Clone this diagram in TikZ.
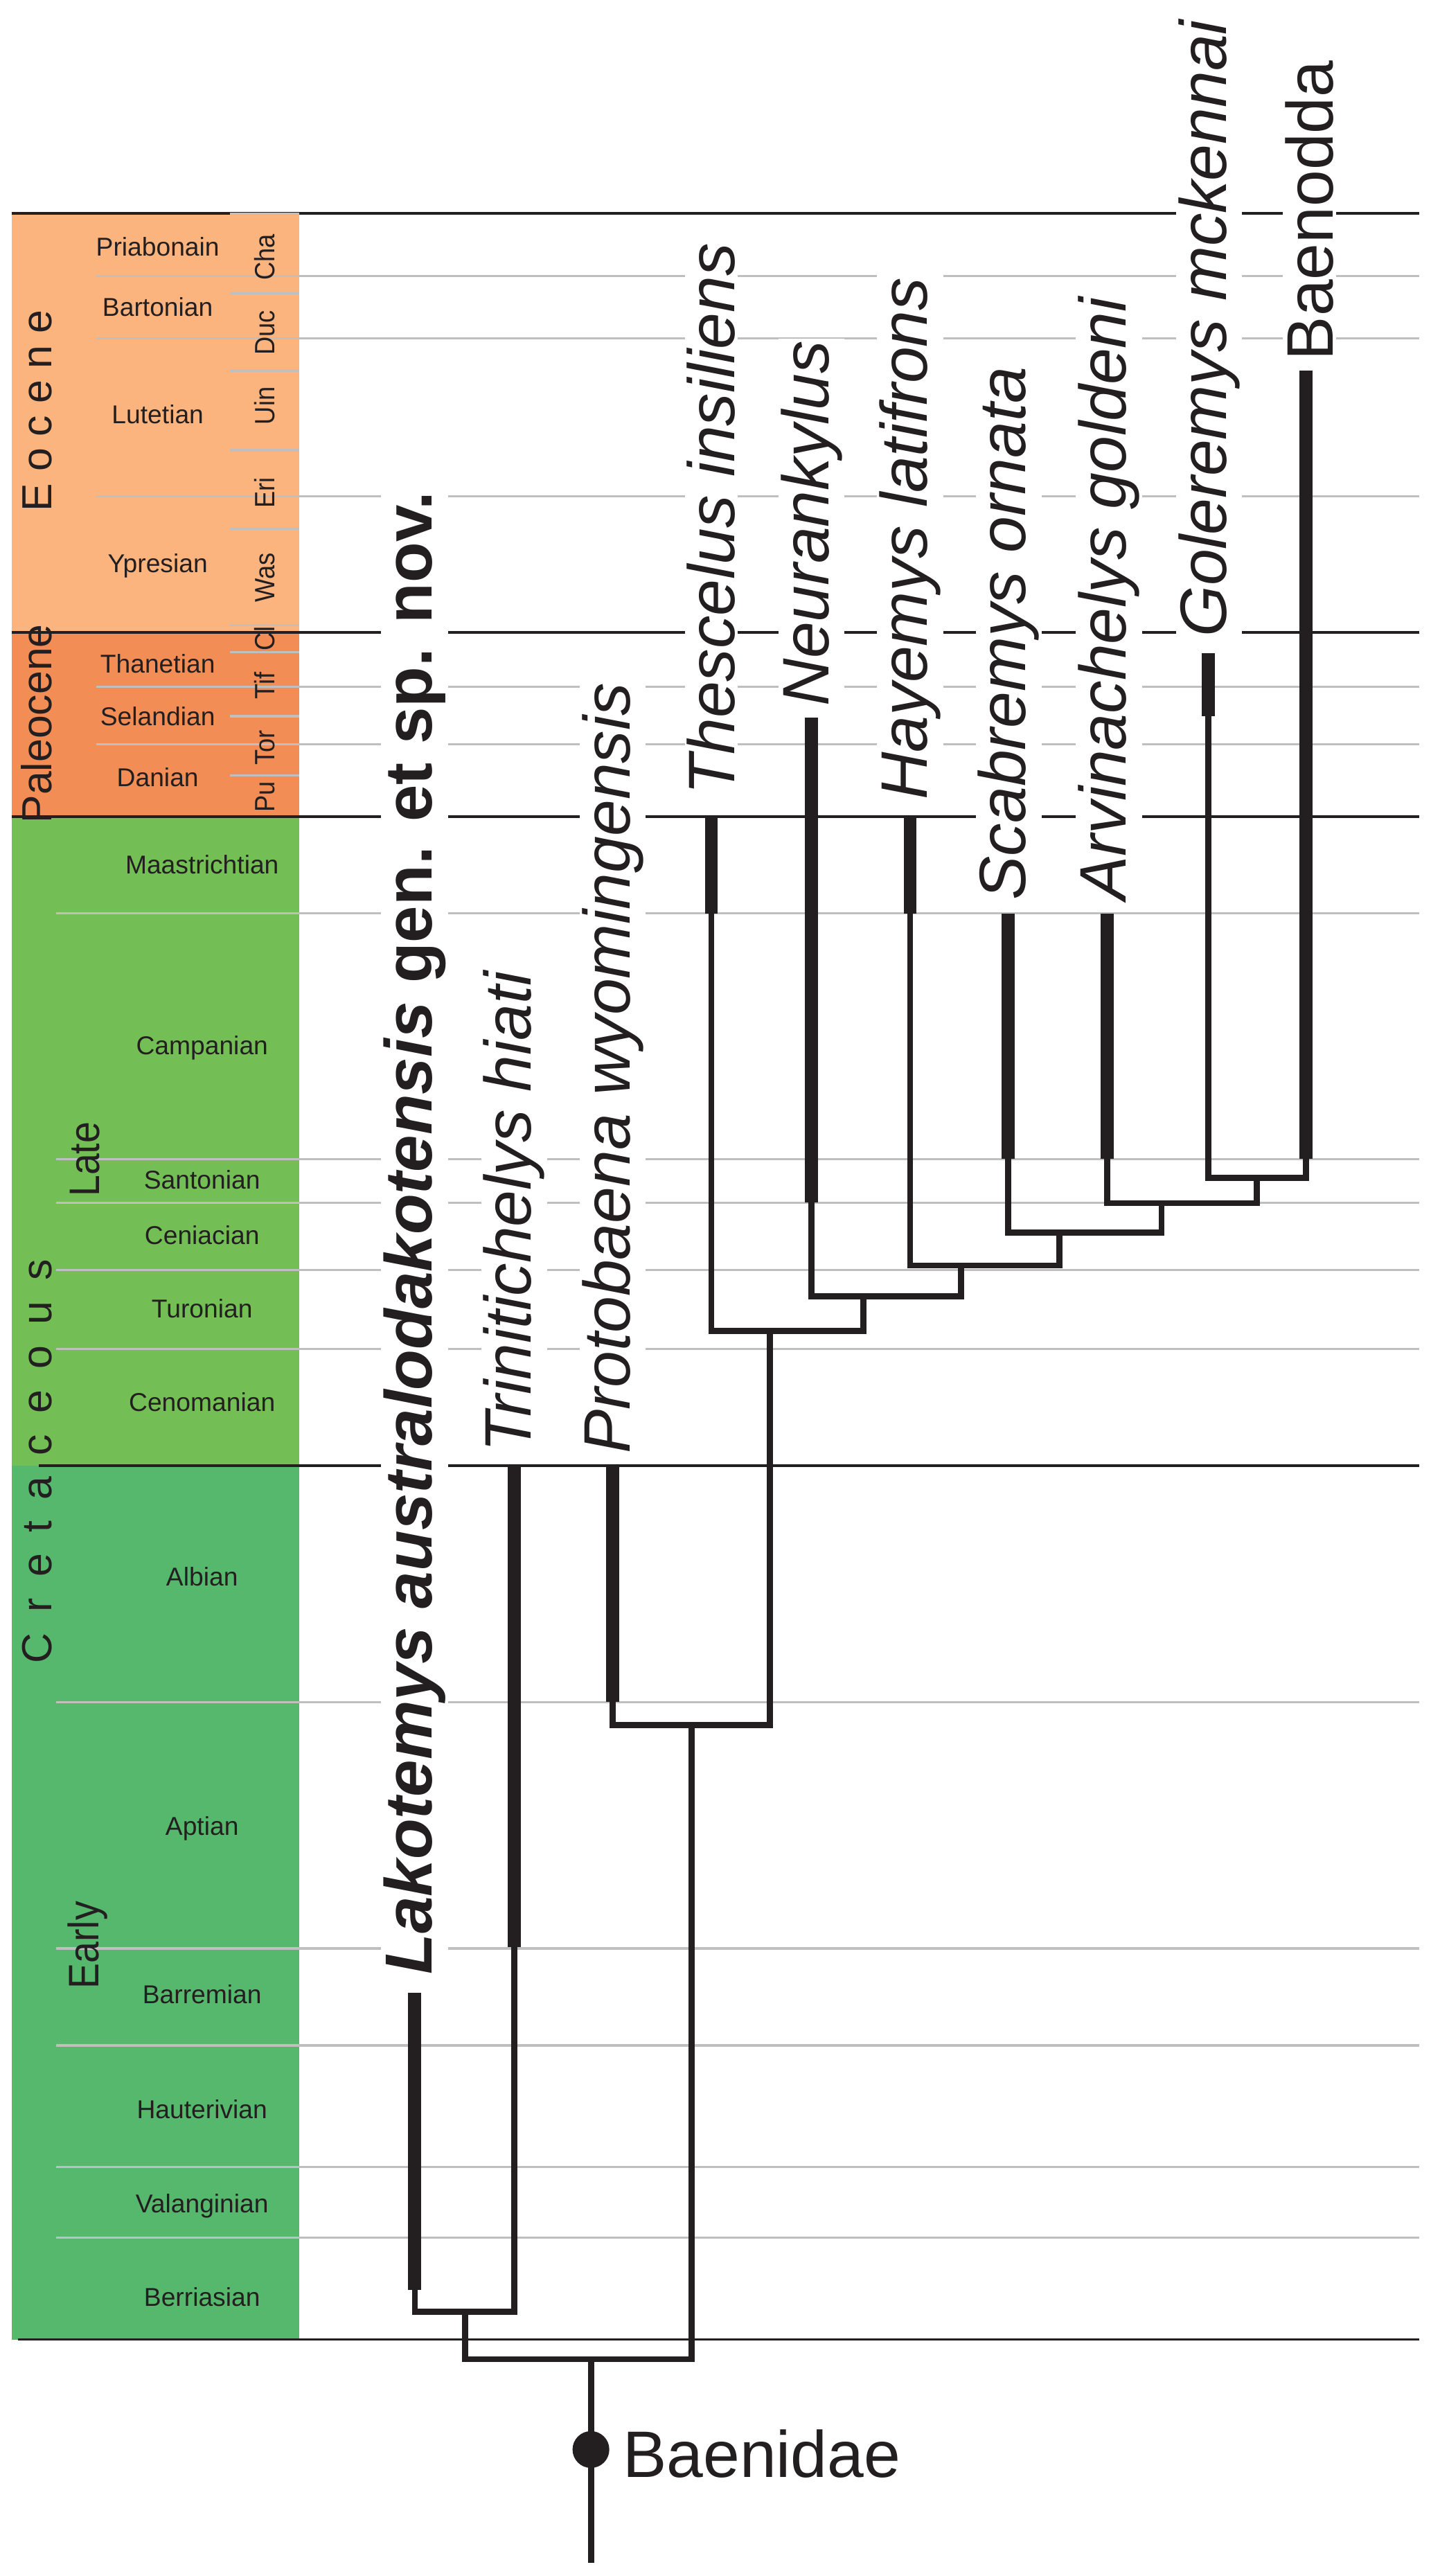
\documentclass[tikz,border=0pt]{standalone}
\usepackage{fontspec}
\setmainfont{Liberation Sans}
\newfontfamily\narrowfont[FakeStretch=0.9]{Liberation Sans}
\definecolor{eoc}{HTML}{FCB47E}
\definecolor{pal}{HTML}{F18D55}
\definecolor{lcr}{HTML}{73BF55}
\definecolor{ecr}{HTML}{56B86C}
\definecolor{grayline}{HTML}{BFBFBF}
\definecolor{ink}{HTML}{231F20}
\tikzset{
  blackline/.style={ink, line width=1.6pt},
  grayln/.style={grayline, line width=1.4pt},
  thickbar/.style={ink, line width=8pt},
  thinbr/.style={ink, line width=3.7pt, line join=miter},
  taxon/.style={rotate=90, anchor=west, fill=white, inner sep=1.5pt, text=ink,
    font=\fontsize{40}{48}\selectfont\itshape},
  stage/.style={anchor=base, inner sep=0pt, text=ink, font=\fontsize{15.7}{18}\selectfont},
  nalma/.style={rotate=90, anchor=base, inner sep=0pt, text=ink, font=\narrowfont\fontsize{17}{20}\selectfont},
  epoch/.style={rotate=90, anchor=base, inner sep=0pt, text=ink, font=\fontsize{25.6}{30}\selectfont},
  sub/.style={rotate=90, anchor=base, inner sep=0pt, text=ink, font=\narrowfont\fontsize{26}{30}\selectfont}
}
\begin{document}
\begin{tikzpicture}[x=1pt,y=-1pt]
\useasboundingbox (0,0) rectangle (871,1568);
\fill[white] (0,0) rectangle (871,1568);
% colour bands
\fill[eoc] (7.3,130) rectangle (182,385);
\fill[pal] (7.3,385) rectangle (182,497);
\fill[lcr] (7.3,497) rectangle (182,892);
\fill[ecr] (7.3,892) rectangle (182,1424);
% stage boundaries (grey)
\foreach \yy in {168,206,302,418,453}
  \draw[grayln] (58.7,\yy) -- (864,\yy);
\foreach \yy in {556,705.5,732,773,821,1036,1186,1245,1319,1362}
  \draw[grayln] (34.3,\yy) -- (864,\yy);
% epoch boundaries (black)
\draw[blackline] (7,130) -- (864,130);
\draw[blackline] (7,385) -- (864,385);
\draw[blackline] (7,497) -- (864,497);
\draw[blackline] (23.4,892) -- (864,892);
\draw[blackline] (11,1424) -- (864,1424);
% NALMA boundaries
\foreach \yy in {130,178.6,225.5,274,322,380.6,397,436,472}
  \draw[grayln] (140,\yy) -- (182,\yy);
% epoch names
\node[epoch] (eocene) at (31.6,250) {E o c e n e};
\node[epoch] (paleocene) at (31.2,440.5) {Paleocene};
\node[epoch] (cretaceous) at (31.5,889.5) {C\hspace{0.5em}r\hspace{0.5em}e\hspace{0.5em}t\hspace{0.5em}a\hspace{0.5em}c\hspace{0.5em}e\hspace{0.5em}o\hspace{0.5em}u\hspace{0.5em}s};
\node[sub] (late) at (60.5,705.7) {Late};
\node[sub] (early) at (60,1184) {Early};
% stage names
\node[stage] (priab) at (96,155.9) {Priabonain};
\node[stage] (barton) at (96,192.4) {Bartonian};
\node[stage] (lutet) at (96,257.7) {Lutetian};
\node[stage] (ypres) at (96,348.5) {Ypresian};
\node[stage] (thanet) at (96,409.5) {Thanetian};
\node[stage] (seland) at (96,441.7) {Selandian};
\node[stage] (danian) at (96,478.7) {Danian};
\node[stage] (maas) at (123,532) {Maastrichtian};
\node[stage] (camp) at (123,641.8) {Campanian};
\node[stage] (sant) at (123,723.8) {Santonian};
\node[stage] (coni) at (123,757.6) {Ceniacian};
\node[stage] (turo) at (123,802) {Turonian};
\node[stage] (ceno) at (123,859.2) {Cenomanian};
\node[stage] (albi) at (123,965.3) {Albian};
\node[stage] (apti) at (123,1117) {Aptian};
\node[stage] (barr) at (123,1219.5) {Barremian};
\node[stage] (haut) at (123,1289.4) {Hauterivian};
\node[stage] (vala) at (123,1346.7) {Valanginian};
\node[stage] (berr) at (123,1403.6) {Berriasian};
% NALMA names
\node[nalma] (cha) at (167.3,156.6) {Cha};
\node[nalma] (duc) at (167.3,202.6) {Duc};
\node[nalma] (uin) at (167.3,247) {Uin};
\node[nalma] (eri) at (167.3,300) {Eri};
\node[nalma] (was) at (167.3,351.6) {Was};
\node[nalma] (cl) at (167.3,388.7) {Cl};
\node[nalma] (tif) at (167.3,417.5) {Tif};
\node[nalma] (tor) at (167.3,455) {Tor};
\node[nalma] (pu) at (167.3,485) {Pu};
% taxon labels
\node[taxon, font=\fontsize{40.5}{48}\selectfont\bfseries] (labL) at (252.5,1203.5) {\textit{Lakotemys australodakotensis} gen. et sp. nov.};
\node[taxon] (labT) at (313,885.5) {Trinitichelys hiati};
\node[taxon] (labP) at (373,886.5) {Protobaena wyomingensis};
\node[taxon] (labTh) at (433,485.5) {Thescelus insiliens};
\node[taxon] (labN) at (494,431.5) {Neurankylus};
\node[taxon] (labH) at (554,488.5) {Hayemys latifrons};
\node[taxon] (labS) at (614,549.5) {Scabremys ornata};
\node[taxon] (labAr) at (675,549.5) {Arvinachelys goldeni};
\node[taxon] (labG) at (736,389.5) {Goleremys mckennai};
\node[taxon, font=\fontsize{40}{48}\selectfont] (labBd) at (797,221) {Baenodda};
% tree coordinates
\coordinate (Lt) at (252.5,1213);  \coordinate (Lb) at (252.5,1394);
\coordinate (Tt) at (313,892);     \coordinate (Tb) at (313,1185);
\coordinate (Pt) at (373,892);     \coordinate (Pb) at (373,1036);
\coordinate (Tht) at (433,497);    \coordinate (Thb) at (433,556);
\coordinate (Nt) at (494,437);     \coordinate (Nb) at (494,732);
\coordinate (Ht) at (554,497);     \coordinate (Hb) at (554,556);
\coordinate (St) at (613.6,556);   \coordinate (Sb) at (613.6,705.5);
\coordinate (Art) at (674,556);    \coordinate (Arb) at (674,705.5);
\coordinate (Gt) at (735.5,397.6); \coordinate (Gb) at (735.5,436);
\coordinate (Bdt) at (795,225.5);  \coordinate (Bdb) at (795,705.5);
\coordinate (nA) at (283,1407);
\coordinate (nR) at (359.7,1436);
\coordinate (nB) at (421,1050);
\coordinate (nC) at (468.5,810);
\coordinate (nD) at (525.5,789);
\coordinate (nE) at (585,770.3);
\coordinate (nF) at (645,750.4);
\coordinate (nG) at (707,732.3);
\coordinate (nH) at (765,716.8);
\coordinate (rootend) at (359.7,1560);
% thin branches
\draw[thinbr] (Lb) |- (nA) -| (Tb);
\draw[thinbr] (nA) |- (nR) -| (nB);
\draw[thinbr] (Pb) |- (nB) -| (nC);
\draw[thinbr] (Thb) |- (nC) -| (nD);
\draw[thinbr] (Nb) |- (nD) -| (nE);
\draw[thinbr] (Hb) |- (nE) -| (nF);
\draw[thinbr] (Sb) |- (nF) -| (nG);
\draw[thinbr] (Arb) |- (nG) -| (nH);
\draw[thinbr] (Gb) |- (nH) -| (Bdb);
\draw[thinbr] (nR) -- (rootend);
% thick ranges
\draw[thickbar] (Lt) -- (Lb);
\draw[thickbar] (Tt) -- (Tb);
\draw[thickbar] (Pt) -- (Pb);
\draw[thickbar] (Tht) -- (Thb);
\draw[thickbar] (Nt) -- (Nb);
\draw[thickbar] (Ht) -- (Hb);
\draw[thickbar] (St) -- (Sb);
\draw[thickbar] (Art) -- (Arb);
\draw[thickbar] (Gt) -- (Gb);
\draw[thickbar] (Bdt) -- (Bdb);
% root
\node[circle, fill=ink, inner sep=0pt, minimum size=22.4pt] (dot) at (359.7,1491) {};
\node[anchor=base west, inner sep=0pt, text=ink, font=\fontsize{40}{48}\selectfont] (baenidae) at (379,1507.7) {Baenidae};
\end{tikzpicture}
\end{document}
